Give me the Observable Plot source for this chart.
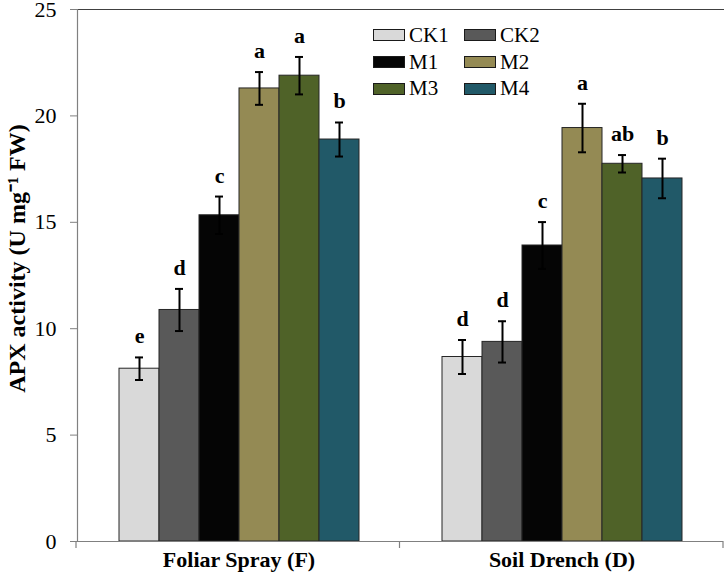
<!DOCTYPE html>
<html><head><meta charset="utf-8">
<script src="https://cdn.jsdelivr.net/npm/d3@7"></script>
<script src="https://cdn.jsdelivr.net/npm/@observablehq/plot@0.6"></script>
<style>
body{margin:0;background:#fff;}
#wrap{position:relative;width:726px;height:581px;}
#legend{position:absolute;left:373px;top:22px;display:grid;grid-template-columns:91px 91px;grid-auto-rows:26.8px;font-family:"Liberation Serif","Times New Roman",serif;font-size:21px;color:#000;}
.item{display:flex;align-items:center;}
.sw{width:30px;height:10px;border:1px solid #1a1a1a;margin-right:4px;}
</style></head>
<body><div id="wrap"><div id="legend"></div></div>
<script>
const groups = ["Foliar Spray (F)", "Soil Drench (D)"];
const treatments = ["CK1", "CK2", "M1", "M2", "M3", "M4"];
const colors = ["#d9d9d9", "#595959", "#050505", "#948a54", "#4f6228", "#215968"];
const foliarMeans = [8.12, 10.88, 15.33, 21.29, 21.89, 18.89];
const foliarErr = [0.53, 0.99, 0.88, 0.77, 0.88, 0.80];
const foliarLetters = ["e", "d", "c", "a", "a", "b"];
const soilMeans = [8.67, 9.38, 13.91, 19.43, 17.75, 17.06];
const soilErr = [0.80, 0.97, 1.10, 1.14, 0.41, 0.93];
const soilLetters = ["d", "d", "c", "a", "ab", "b"];
const yTicks = [0, 5, 10, 15, 20, 25];
const yLabel = "APX activity (U mg\u207B\u00B9 FW)";

const series = [
  {means: foliarMeans, errs: foliarErr, letters: foliarLetters},
  {means: soilMeans, errs: soilErr, letters: soilLetters}
];
const data = [];
groups.forEach((g, gi) => treatments.forEach((t, ti) => data.push({
  group: g, treatment: t,
  mean: series[gi].means[ti], err: series[gi].errs[ti], letter: series[gi].letters[ti]
})));

const serif = "'Liberation Serif','Times New Roman',serif";
const plot = Plot.plot({
  width: 726, height: 581,
  marginLeft: 76, marginRight: 3, marginTop: 9, marginBottom: 40,
  style: {fontFamily: serif, fontSize: "22px", color: "black", background: "white", overflow: "visible"},
  fx: {domain: groups, padding: 0, label: null},
  x: {domain: treatments, paddingInner: 0, paddingOuter: 1, axis: null},
  y: {domain: [0, 25], label: null},
  color: {domain: treatments, range: colors},
  marks: [
    Plot.frame({anchor: "top", stroke: "#404040"}),
    Plot.barY(data, {fx: "group", x: "treatment", y: "mean", fill: "treatment", stroke: "#262626", strokeWidth: 1}),
    Plot.ruleX(data, {fx: "group", x: "treatment", y1: d => d.mean - d.err, y2: d => d.mean + d.err, stroke: "black", strokeWidth: 2}),
    Plot.tickY(data, {fx: "group", x: "treatment", y: d => d.mean - d.err, stroke: "black", strokeWidth: 2, insetLeft: 16, insetRight: 16}),
    Plot.tickY(data, {fx: "group", x: "treatment", y: d => d.mean + d.err, stroke: "black", strokeWidth: 2, insetLeft: 16, insetRight: 16}),
    Plot.text(data, {fx: "group", x: "treatment", y: d => d.mean + d.err, text: "letter", lineAnchor: "bottom", dy: -14, fontSize: 22, fontWeight: "bold", fill: "black"}),
    Plot.ruleY([0], {stroke: "#808080", strokeWidth: 1.2}),
    Plot.axisY({ticks: yTicks, tickSize: 7, tickPadding: 14, fontSize: 22, stroke: "#808080", fill: "black",
      label: yLabel, labelAnchor: "center", labelArrow: "none", labelOffset: 70}),
    Plot.axisFx({anchor: "bottom", tickSize: 0, tickPadding: 10, fontSize: 22, fontWeight: "bold", label: null}),
    Plot.frame({anchor: "left", facetAnchor: "left", stroke: "#808080", strokeWidth: 1.2})
  ]
});

document.getElementById("wrap").appendChild(plot);

// bold, slightly larger y label, nudged up as in the reference
const lab = d3.select(plot).select("[aria-label='y-axis label']");
lab.selectAll("text").attr("font-weight", "bold").attr("font-size", 24);
lab.attr("transform", (lab.attr("transform") || "") + " translate(0,-17)");

// group boundary ticks on the category axis (from fx scale)
const fxs = plot.scale("fx");
const band = d3.scaleBand(fxs.domain, fxs.range).paddingInner(0).paddingOuter(0);
const y0 = plot.scale("y").apply(0);
const bounds = [band(groups[0])].concat(groups.map(g => band(g) + band.bandwidth()));
d3.select(plot).append("g").attr("stroke", "#808080").attr("stroke-width", 1.2)
  .selectAll("line").data(bounds).join("line")
  .attr("x1", d => d).attr("x2", d => d).attr("y1", y0).attr("y2", y0 + 7);

// legend
const leg = d3.select("#legend");
treatments.forEach((t, i) => {
  const it = leg.append("div").attr("class", "item");
  it.append("div").attr("class", "sw").style("background", colors[i]);
  it.append("span").text(t);
});
</script>
</body></html>
